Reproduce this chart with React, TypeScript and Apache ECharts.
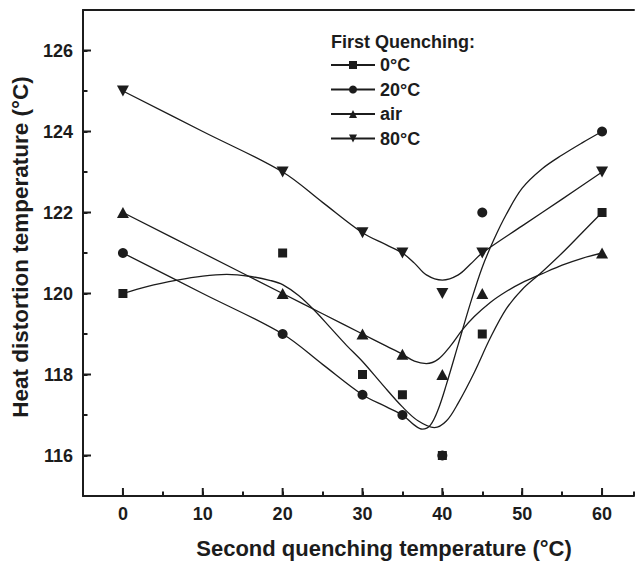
import React, { useEffect, useRef } from "react";
import * as echarts from "echarts";

// Measured points
const xPoints = [0, 20, 30, 35, 40, 45, 60];
const pts0C = [120, 121, 118, 117.5, 116, 119, 122];
const pts20C = [121, 119, 117.5, 117, 116, 122, 124];
const ptsAir = [122, 120, 119, 118.5, 118, 120, 121];
const pts80C = [125, 123, 121.5, 121, 120, 121, 123];

// Fitted curves: [x, y]
const fit0C = [
  [0, 120.0], [3, 120.17], [6.8, 120.33], [10, 120.43], [13, 120.47], [16, 120.42], [18.5, 120.32],
  [20, 120.22], [22, 119.95], [24, 119.58], [26, 119.15], [28, 118.72], [30, 118.32], [32.5, 117.75],
  [35, 117.2], [37, 116.85], [39, 116.69], [40.5, 116.85], [42, 117.3], [44, 118.05], [46, 118.9],
  [48, 119.62], [50, 120.1], [52.3, 120.5], [55, 121.0], [57.5, 121.5], [60, 122.0],
];
const fit20C = [
  [0, 121], [10, 120], [20, 119], [25, 118.25], [30, 117.5], [33, 117.2], [35, 117.0], [36.5, 116.75],
  [37.5, 116.65], [38.5, 116.75], [39.5, 117.15], [40.5, 117.75], [42, 118.75], [43.5, 119.75],
  [45, 120.65], [46.5, 121.35], [48, 121.95], [50, 122.6], [52.5, 123.08], [55, 123.42], [57.5, 123.72],
  [60, 124],
];
const fitAir = [
  [0, 122], [10, 121], [20, 120], [25, 119.5], [30, 119], [33, 118.7], [35, 118.5], [36.5, 118.33],
  [38, 118.27], [39.5, 118.38], [41, 118.7], [42.5, 119.1], [44, 119.43], [46, 119.78], [48, 120.05],
  [50, 120.27], [52.3, 120.47], [55, 120.7], [57.5, 120.87], [60, 121],
];
const fit80C = [
  [0, 125], [10, 124], [20, 123], [25, 122.25], [30, 121.5], [33, 121.2], [35, 121], [36.5, 120.75],
  [38, 120.46], [40, 120.33], [42, 120.46], [43.5, 120.72], [45, 121], [50, 121.67], [55, 122.33],
  [60, 123],
];

const seriesNames = ["0°C", "20°C", "air", "80°C"];
const xMajorTicks = [0, 10, 20, 30, 40, 50, 60];
const yMajorTicks = [116, 118, 120, 122, 124, 126];

const INK = "#1c1c1c";
const FONT = "'Liberation Sans', Arial, Helvetica, sans-serif";
const downTri = "path://M0,0 L10,0 L5,9 Z";
const symbols = ["rect", "circle", "triangle", downTri];
const symbolSizes: any[] = [9, 10, [12, 11], [12, 11]];

export default function App() {
  const ref = useRef<HTMLDivElement>(null);
  useEffect(() => {
    if (!ref.current) return;
    const chart = echarts.init(ref.current, null, { renderer: "svg" });
    const fits = [fit0C, fit20C, fitAir, fit80C];
    const pts = [pts0C, pts20C, ptsAir, pts80C];

    const lineSeries = fits.map((f, i) => ({
      name: seriesNames[i],
      type: "line",
      data: f,
      smooth: 0.35,
      symbol: symbols[i],
      showSymbol: false,
      lineStyle: { color: INK, width: 1.3 },
      itemStyle: { color: INK },
      silent: true,
      z: 2,
    }));
    const scatterSeries = pts.map((p, i) => ({
      name: seriesNames[i] + " data",
      type: "scatter",
      data: xPoints.map((x, j) => [x, p[j]]),
      symbol: symbols[i],
      symbolSize: symbolSizes[i],
      itemStyle: { color: INK, opacity: 1 },
      silent: true,
      z: 3,
    }));

    const tickStyle = { stroke: INK, lineWidth: 2 };
    const xMajor = {
      type: "custom",
      silent: true,
      clip: false,
      data: xMajorTicks.map((v) => [v, 115]),
      renderItem: (params: any, api: any) => {
        const p = api.coord([api.value(0), api.value(1)]);
        return { type: "line", shape: { x1: p[0], y1: p[1], x2: p[0], y2: p[1] - 8 }, style: tickStyle };
      },
      z: 5,
    };
    const yMajor = {
      type: "custom",
      silent: true,
      clip: false,
      data: yMajorTicks.map((v) => [-5, v]),
      renderItem: (params: any, api: any) => {
        const p = api.coord([api.value(0), api.value(1)]);
        return { type: "line", shape: { x1: p[0], y1: p[1], x2: p[0] + 8, y2: p[1] }, style: tickStyle };
      },
      z: 5,
    };

    chart.setOption({
      animation: false,
      backgroundColor: "#ffffff",
      grid: { left: 83, right: 0, top: 10, bottom: 66, containLabel: false },
      xAxis: [
        {
          type: "value",
          min: -5,
          max: 64,
          interval: 5,
          axisLine: { show: true, onZero: false, lineStyle: { color: INK, width: 2 } },
          axisTick: { show: true, inside: true, length: 4.5, lineStyle: { color: INK, width: 2 } },
          axisLabel: {
            margin: 9,
            color: INK,
            fontSize: 18,
            fontWeight: "bold",
            fontFamily: FONT,
            formatter: (v: number) => (v >= 0 && v % 10 === 0 ? String(v) : ""),
          },
          splitLine: { show: false },
        },
        {
          type: "value",
          position: "top",
          min: -5,
          max: 64,
          interval: 5,
          axisLine: { show: true, onZero: false, lineStyle: { color: INK, width: 2 } },
          axisTick: { show: false },
          axisLabel: { show: false },
          splitLine: { show: false },
        },
      ],
      yAxis: {
        type: "value",
        min: 115,
        max: 127,
        interval: 1,
        axisLine: { show: true, onZero: false, lineStyle: { color: INK, width: 2 } },
        axisTick: { show: true, inside: true, length: 4.5, lineStyle: { color: INK, width: 2 } },
        axisLabel: {
          margin: 10,
          color: INK,
          fontSize: 18,
          fontWeight: "bold",
          fontFamily: FONT,
          formatter: (v: number) => (v % 2 === 0 ? String(v) : ""),
        },
        splitLine: { show: false },
      },
      legend: {
        data: seriesNames,
        orient: "vertical",
        left: 330,
        top: 56,
        padding: 0,
        itemWidth: 44,
        itemHeight: 10,
        itemGap: 6.5,
        selectedMode: false,
        textStyle: { color: INK, fontSize: 18, fontWeight: "bold", fontFamily: FONT, lineHeight: 18 },
      },
      graphic: [
        {
          type: "text",
          x: 331,
          y: 41.5,
          style: {
            text: "First Quenching:",
            fill: INK,
            fontSize: 18,
            fontWeight: "bold",
            fontFamily: FONT,
            align: "left",
            verticalAlign: "middle",
          },
        },
        {
          type: "text",
          x: 384,
          y: 548,
          style: {
            text: "Second quenching temperature (°C)",
            fill: INK,
            fontSize: 22,
            fontWeight: "bold",
            fontFamily: FONT,
            align: "center",
            verticalAlign: "middle",
          },
        },
        {
          type: "text",
          x: 20,
          y: 247,
          rotation: Math.PI / 2,
          style: {
            text: "Heat distortion temperature (°C)",
            fill: INK,
            fontSize: 22.5,
            fontWeight: "bold",
            fontFamily: FONT,
            align: "center",
            verticalAlign: "middle",
          },
        },
      ],
      series: [...lineSeries, ...scatterSeries, xMajor, yMajor],
    });
    return () => chart.dispose();
  }, []);
  return (
    <div
      ref={ref}
      style={{ position: "absolute", left: 0, top: 0, width: 637, height: 562, background: "#fff" }}
    />
  );
}
